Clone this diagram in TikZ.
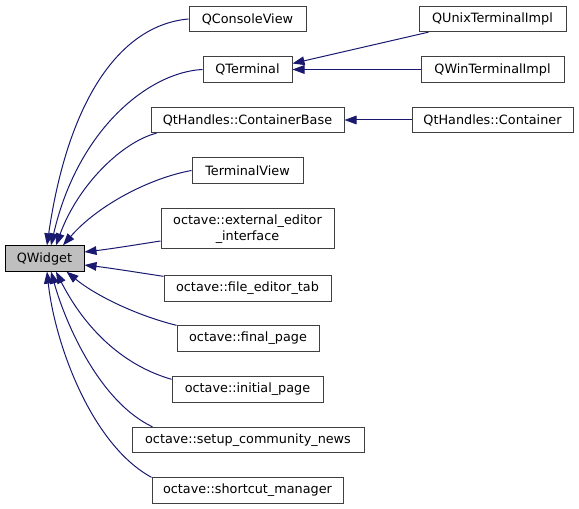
\documentclass[tikz,border=0pt]{standalone}
\usepackage{fontspec}
\setmainfont{DejaVu Sans}
\usetikzlibrary{arrows.meta}
\definecolor{edgeblue}{HTML}{191970}
\definecolor{boxline}{HTML}{404040}
\definecolor{basefill}{HTML}{BFBFBF}
\begin{document}
\begin{tikzpicture}[x=0.75pt,y=-0.75pt,
  cls/.style={draw=boxline, line width=0.75pt, inner sep=0pt, minimum height=19pt,
    font=\fontsize{9.6pt}{12pt}\selectfont, align=center},
  base/.style={cls, fill=basefill, draw=black},
  inh/.style={draw=edgeblue, line width=0.75pt, -{Triangle[length=9pt,width=6.5pt]}}]
\useasboundingbox (0,0) rectangle (579,509);

\node[base, minimum width=59.25pt] (qw) at (44.5,258.5) {QWidget};
\node[cls, minimum width=87.75pt] (qcv) at (247.5,19) {QConsoleView};
\node[cls, minimum width=66.75pt] (qt) at (247.5,69.5) {QTerminal};
\node[cls, minimum width=110.25pt] (qux) at (492.5,19) {QUnixTerminalImpl};
\node[cls, minimum width=107.25pt] (qwin) at (492.5,69.5) {QWinTerminalImpl};
\node[cls, minimum width=144.75pt] (cb) at (247.5,120) {QtHandles::ContainerBase};
\node[cls, minimum width=120.75pt] (cont) at (492.5,120) {QtHandles::Container};
\node[cls, minimum width=83.25pt] (tv) at (247.5,170.5) {TerminalView};
\node[cls, minimum width=129.75pt, minimum height=30pt] (eei) at (247.5,229) {octave::external\_editor\\\_interface};
\node[cls, minimum width=125.25pt] (fet) at (247.5,288.5) {octave::file\_editor\_tab};
\node[cls, minimum width=106.5pt] (fp) at (248,338.5) {octave::final\_page};
\node[cls, minimum width=113.25pt] (ip) at (247.5,389.5) {octave::initial\_page};
\node[cls, minimum width=174pt] (scn) at (248,440) {octave::setup\_community\_news};
\node[cls, minimum width=143.25pt] (sm) at (247.5,490.5) {octave::shortcut\_manager};

% right-hand inheritance
\draw[inh] ([xshift=7.5pt]qux.south west) -- ([yshift=4.5pt]qt.east);
\draw[inh] (qwin.west) -- (qt.east);
\draw[inh] (cont.west) -- (cb.east);

% edges into QWidget from above
\draw[inh] (qcv.west) .. controls (120,25) and (68,100) .. ([xshift=1.875pt]qw.north);
\draw[inh] (qt.west) .. controls (150,72) and (78,128) .. ([xshift=4.875pt]qw.north);
\draw[inh] ([xshift=4.5pt]cb.south west) .. controls (122,142) and (78,185) .. ([xshift=8.625pt]qw.north);
\draw[inh] (tv.west) .. controls (150,178) and (98,205) .. ([xshift=13.875pt]qw.north);

% edges from the side
\draw[inh] ([yshift=-9pt]eei.west) .. controls (135,245) and (110,249) .. ([yshift=4.875pt]qw.east);
\draw[inh] ([yshift=-0.75pt]fet.north west) .. controls (135,272) and (110,268) .. ([yshift=-4.875pt]qw.east);

% edges into QWidget from below
\draw[inh] (fp.north west) .. controls (135,315) and (95,295) .. ([xshift=16.5pt]qw.south);
\draw[inh] ([yshift=-2.25pt]ip.north west) .. controls (112,362) and (78,315) .. ([xshift=8.625pt]qw.south);
\draw[inh] ([xshift=15.75pt]scn.north west) .. controls (100,402) and (66,325) .. ([xshift=4.875pt]qw.south);
\draw[inh] (sm.north west) .. controls (92,445) and (55,345) .. ([xshift=1.875pt]qw.south);
\end{tikzpicture}
\end{document}
